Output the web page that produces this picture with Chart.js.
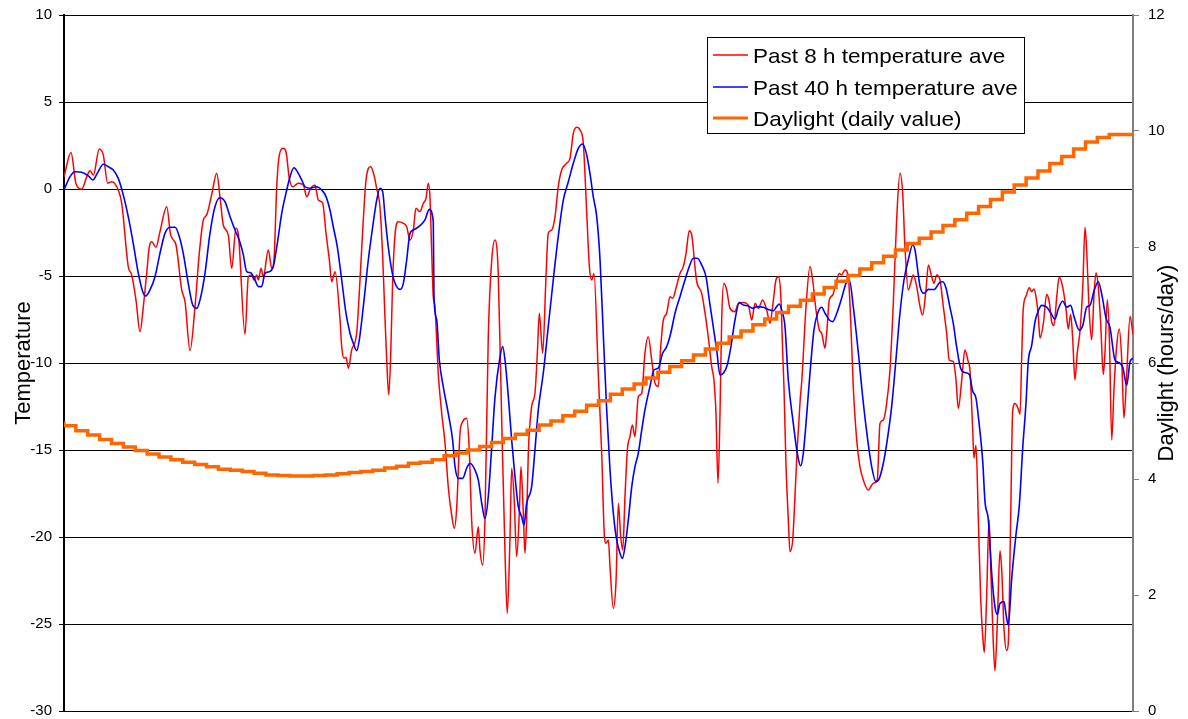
<!DOCTYPE html>
<html>
<head>
<meta charset="utf-8">
<title>Temperature and daylight</title>
<script src="https://cdn.jsdelivr.net/npm/chart.js@4.4.1/dist/chart.umd.min.js"></script>
<style>
    html, body { margin: 0; padding: 0; background: #fff; }
    #wrap { width: 1188px; height: 719px; }
</style>
</head>
<body>
<div id="wrap"><canvas id="tempChart" width="1188" height="719"></canvas></div>
<script>
// Data (x = days from start of record)
const past8hDay = [
    0.00, 0.59, 1.01, 1.49, 1.91, 2.19, 2.47, 2.97, 3.31, 3.68, 4.02, 4.57, 4.86, 5.41, 5.70, 6.06, 6.40, 6.68, 6.96, 7.18,
    7.38, 7.75, 8.08, 8.65, 8.98, 9.43, 9.91, 10.19, 10.61, 11.03, 11.39, 11.73, 12.01, 12.43, 12.86, 13.13, 13.41, 13.83, 14.12, 14.48,
    14.67, 15.24, 15.52, 15.80, 16.00, 16.22, 16.36, 16.59, 16.78, 17.20, 17.49, 17.68, 17.91, 18.13, 18.46, 18.69, 18.97, 19.25, 19.73, 20.15,
    20.43, 20.77, 21.13, 21.41, 21.78, 22.06, 22.34, 22.54, 22.82, 23.24, 23.38, 23.57, 23.74, 23.94, 24.22, 24.64, 24.92, 25.15, 25.43, 25.82,
    26.10, 26.32, 26.60, 26.83, 27.03, 27.17, 27.34, 27.51, 27.67, 27.87, 28.15, 28.57, 28.85, 29.13, 29.41, 29.63, 29.97, 30.25, 30.48, 30.67,
    30.81, 30.96, 31.09, 31.23, 31.51, 31.80, 32.08, 32.35, 32.64, 32.86, 33.06, 33.34, 33.57, 33.90, 34.12, 34.32, 34.60, 34.88, 35.02, 35.25,
    35.44, 35.72, 36.01, 36.29, 36.56, 36.85, 37.13, 37.32, 37.55, 37.69, 37.89, 38.11, 38.33, 38.47, 38.67, 38.81, 38.95, 39.09, 39.37, 39.65,
    39.85, 40.02, 40.30, 40.58, 40.77, 41.06, 41.34, 41.61, 41.90, 42.32, 42.60, 42.88, 43.16, 43.44, 43.72, 44.01, 44.23, 44.43, 44.62, 44.98,
    45.27, 45.50, 45.63, 45.83, 45.97, 46.25, 46.48, 46.67, 46.87, 47.04, 47.23, 47.43, 47.65, 47.85, 48.07, 48.35, 48.64, 48.91, 49.19, 49.48,
    49.76, 50.03, 50.24, 50.46, 50.74, 51.02, 51.25, 51.52, 51.86, 52.14, 52.37, 52.64, 52.85, 53.12, 53.27, 53.69, 53.97, 54.24, 54.53, 54.72,
    54.89, 55.06, 55.23, 55.37, 55.56, 55.79, 56.07, 56.49, 56.77, 57.19, 57.61, 57.90, 58.18, 58.45, 58.82, 59.16, 59.44, 59.66, 59.94, 60.14,
    60.34, 60.51, 60.62, 60.78, 60.98, 61.12, 61.35, 61.54, 61.74, 61.98, 62.12, 62.22, 62.47, 62.81, 63.03, 63.31, 63.59, 63.79, 64.07, 64.21,
    64.43, 64.72, 64.99, 65.27, 65.47, 65.75, 66.03, 66.23, 66.45, 66.74, 67.01, 67.29, 67.71, 68.14, 68.47, 68.70, 68.98, 69.26, 69.54, 69.82,
    70.10, 70.38, 70.61, 70.80, 71.08, 71.28, 71.50, 71.79, 72.07, 72.29, 72.57, 72.77, 73.05, 73.25, 73.47, 73.75, 74.03, 74.31, 74.53, 74.87,
    75.10, 75.29, 75.58, 75.85, 76.13, 76.28, 76.50, 76.61, 76.78, 76.98, 77.18, 77.35, 77.48, 77.68, 77.88, 78.05, 78.24, 78.38, 78.58, 78.80,
    78.95, 79.14, 79.37, 79.50, 79.70, 79.87, 80.07, 80.34, 80.49, 80.63, 80.76, 80.99, 81.27, 81.47, 81.66, 81.83, 82.03, 82.17, 82.45, 82.73,
    82.95, 83.15, 83.35, 83.57, 83.79, 84.08, 84.36, 84.55, 84.75, 84.92, 85.11, 85.31, 85.54, 85.77, 85.96, 86.10, 86.32, 86.52, 86.72, 86.89,
    87.08, 87.28, 87.50, 87.64, 87.84, 88.01, 88.21, 88.40, 88.63, 88.85, 89.05, 89.24, 89.47, 89.75, 90.00
];
const past8hTemp = [
    0.7, 2.1, 0.3, 0.0, 0.7, 1.05, 0.8, 2.3, 1.95, 0.33, 0.42, -0.06, -0.82, -4.46, -4.94, -6.38, -8.2, -6.76, -4.85, -3.32,
    -3.03, -3.35, -2.45, -1.02, -2.64, -3.22, -5.8, -6.48, -9.29, -6.76, -3.7, -1.78, -1.49, -0.34, 0.9, -0.44, -2.07, -2.64, -4.56, -2.26,
    -2.55, -8.35, -5.04, -4.94, -5.23, -4.94, -5.23, -4.56, -5.04, -3.51, -4.56, -4.08, 0.13, 1.95, 2.34, 2.14, 0.61, 0.13, 0.33, 0.23,
    -0.44, 0.04, 0.23, -0.63, -0.82, -2.55, -4.08, -5.33, -4.75, -7.53, -9.06, -9.73, -9.67, -10.3, -9.25, -8.29, -5.23, -2.36, 0.52, 1.28,
    0.8, 0.04, -1.02, -3.89, -7.53, -9.83, -11.84, -9.44, -5.23, -2.64, -1.88, -1.97, -2.17, -2.93, -2.36, -1.11, -1.3, -0.82, -0.54, 0.33,
    -0.44, -3.7, -6.19, -6.76, -10.59, -12.89, -14.61, -17.11, -18.74, -19.5, -18.35, -14.04, -13.37, -13.18, -15.0, -19.02, -20.94, -19.41, -20.75, -21.61,
    -19.02, -8.49, -4.08, -2.93, -4.85, -13.28, -20.94, -24.39, -19.98, -16.05, -17.68, -21.13, -18.64, -15.96, -18.64, -20.94, -19.02, -15.19, -12.51, -11.74,
    -9.44, -7.14, -9.44, -5.04, -2.55, -2.36, -1.59, 0.13, 1.09, 1.48, 1.76, 3.2, 3.55, 3.39, 2.63, -1.4, -4.46, -5.23, -4.85, -10.59,
    -15.19, -19.98, -20.36, -20.17, -21.71, -24.1, -22.47, -18.06, -19.98, -20.75, -17.68, -15.0, -14.23, -13.56, -14.23, -11.94, -11.74, -9.44, -8.49, -9.83,
    -11.17, -11.36, -9.06, -7.53, -7.14, -6.19, -6.28, -5.71, -4.85, -4.46, -3.7, -2.4, -2.64, -4.46, -5.33, -6.0, -7.14, -8.49, -10.21, -10.98,
    -12.89, -16.91, -12.89, -7.53, -5.42, -5.8, -6.86, -7.05, -6.57, -6.53, -6.67, -7.53, -6.57, -6.86, -6.38, -6.95, -7.72, -6.76, -5.23, -5.04,
    -6.0, -9.44, -11.5, -15.75, -19.0, -20.84, -20.17, -17.68, -14.81, -12.13, -10.98, -9.8, -6.76, -4.46, -5.23, -6.95, -8.1, -8.29, -9.15, -8.29,
    -6.38, -6.09, -5.42, -4.85, -4.94, -4.66, -5.04, -7.53, -11.36, -14.43, -15.96, -16.72, -17.3, -16.91, -16.72, -13.47, -13.28, -12.32, -10.4, -6.57,
    -1.78, 0.9, -0.25, -3.32, -5.8, -5.42, -4.94, -5.61, -6.76, -7.24, -5.8, -4.37, -5.04, -5.42, -4.94, -5.23, -6.76, -8.29, -9.83, -9.92,
    -10.98, -12.61, -11.0, -9.25, -9.93, -10.45, -13.79, -15.46, -14.73, -19.01, -23.61, -25.7, -26.64, -23.4, -19.01, -22.36, -26.11, -27.68, -24.86, -20.79,
    -21.94, -25.28, -26.53, -26.11, -19.01, -12.75, -12.33, -12.64, -12.95, -9.62, -6.9, -6.17, -5.68, -5.9, -5.75, -6.17, -7.32, -8.57, -7.74, -6.06,
    -6.48, -7.63, -7.84, -6.27, -5.06, -5.64, -6.9, -8.05, -7.21, -8.57, -10.97, -9.4, -8.15, -5.64, -2.2, -3.56, -7.11, -8.67, -6.06, -4.81,
    -5.64, -7.74, -10.66, -9.4, -6.37, -8.57, -14.42, -11.49, -8.99, -8.05, -9.82, -13.17, -10.66, -7.32, -8.36
];

const past40hDay = [
    0.00, 0.51, 0.93, 1.49, 2.05, 2.42, 2.80, 3.31, 3.73, 4.15, 4.57, 4.99, 5.41, 5.83, 6.26, 6.63, 6.88, 7.24, 7.66, 8.08,
    8.50, 8.92, 9.35, 9.71, 10.04, 10.46, 10.84, 11.17, 11.45, 11.87, 12.29, 12.71, 13.13, 13.55, 13.98, 14.40, 14.82, 15.10, 15.38, 15.72,
    16.08, 16.36, 16.64, 16.92, 17.28, 17.62, 17.96, 18.33, 18.75, 19.03, 19.36, 19.73, 20.01, 20.29, 20.71, 21.27, 21.70, 22.06, 22.39, 22.67,
    23.01, 23.38, 23.74, 24.08, 24.36, 24.64, 24.86, 25.20, 25.62, 25.99, 26.33, 26.60, 26.83, 27.03, 27.30, 27.59, 27.87, 28.29, 28.57, 28.85,
    29.13, 29.41, 29.97, 30.39, 30.75, 31.09, 31.15, 31.38, 31.60, 31.93, 32.35, 32.72, 32.92, 33.20, 33.57, 33.90, 34.18, 34.60, 34.88, 35.17,
    35.44, 35.72, 36.01, 36.29, 36.71, 36.93, 37.13, 37.41, 37.69, 37.97, 38.25, 38.53, 38.73, 38.95, 39.37, 39.65, 39.93, 40.35, 40.77, 41.19,
    41.61, 42.04, 42.46, 42.88, 43.30, 43.67, 44.01, 44.28, 44.56, 44.85, 45.13, 45.40, 45.69, 45.97, 46.25, 46.53, 46.81, 47.01, 47.23, 47.51,
    47.80, 48.07, 48.35, 48.64, 48.91, 49.33, 49.67, 50.03, 50.40, 50.74, 51.08, 51.44, 51.86, 52.28, 52.64, 52.98, 53.32, 53.69, 54.05, 54.33,
    54.66, 54.95, 55.23, 55.51, 55.84, 56.15, 56.49, 56.85, 57.19, 57.61, 57.98, 58.32, 58.87, 59.29, 59.72, 60.00, 60.22, 60.42, 60.70, 60.98,
    61.40, 61.74, 62.02, 62.24, 62.47, 62.76, 63.14, 63.50, 63.79, 64.07, 64.43, 64.72, 65.06, 65.47, 65.84, 66.12, 66.45, 66.88, 67.24, 67.63,
    68.00, 68.36, 68.64, 68.98, 69.31, 69.68, 70.04, 70.38, 70.72, 71.08, 71.45, 71.65, 71.84, 72.07, 72.40, 72.77, 73.25, 73.69, 73.98, 74.26,
    74.59, 74.87, 75.16, 75.49, 75.85, 76.22, 76.50, 76.78, 77.06, 77.35, 77.54, 77.82, 78.11, 78.38, 78.58, 78.80, 79.14, 79.31, 79.50, 79.79,
    80.15, 80.43, 80.72, 80.99, 81.18, 81.47, 81.75, 82.03, 82.31, 82.73, 83.07, 83.43, 83.71, 84.08, 84.42, 84.75, 85.03, 85.48, 85.77, 86.10,
    86.38, 86.72, 87.08, 87.37, 87.73, 88.06, 88.48, 88.85, 89.14, 89.47, 89.75, 90.00
];
const past40hTemp = [
    -0.06, 0.71, 0.99, 0.96, 0.75, 0.52, 0.9, 1.42, 1.28, 1.09, 0.61, -0.34, -1.59, -3.12, -4.85, -5.9, -6.15, -5.8, -5.04, -3.7,
    -2.55, -2.2, -2.2, -2.74, -3.7, -5.42, -6.67, -6.86, -6.38, -4.85, -2.55, -1.02, -0.5, -0.73, -1.59, -2.36, -3.07, -3.79, -4.75, -4.81,
    -5.23, -5.61, -5.61, -4.85, -4.75, -4.46, -3.12, -1.4, -0.06, 0.71, 1.22, 0.9, 0.52, 0.13, 0.04, 0.13, -0.06, -0.44, -1.21, -2.17,
    -3.32, -5.23, -7.14, -8.29, -8.87, -9.29, -8.68, -6.76, -4.08, -2.17, -0.63, 0.04, -0.15, -1.59, -3.32, -4.66, -5.42, -5.77, -5.42, -4.08,
    -2.55, -2.36, -2.1, -1.78, -1.17, -1.88, -6.19, -7.53, -9.83, -11.36, -12.89, -14.43, -15.96, -16.63, -16.63, -16.05, -15.76, -16.15, -16.72, -18.06,
    -18.93, -17.68, -14.81, -11.94, -9.64, -9.06, -9.83, -11.94, -14.43, -16.53, -18.26, -18.83, -19.31, -18.06, -17.11, -15.0, -12.7, -10.59, -7.91, -5.23,
    -2.74, -0.63, 0.42, 1.48, 2.34, 2.59, 1.95, 0.9, -0.44, -1.59, -4.08, -8.29, -12.7, -16.15, -18.64, -20.17, -20.94, -21.23, -20.56, -19.02,
    -17.11, -15.96, -15.19, -13.85, -12.7, -11.36, -10.4, -10.3, -9.44, -9.06, -8.29, -7.14, -6.19, -5.23, -4.46, -3.98, -3.98, -4.37, -5.04, -6.38,
    -7.91, -9.25, -10.69, -10.59, -10.11, -9.06, -7.53, -6.53, -6.67, -6.72, -6.86, -6.76, -6.8, -6.92, -7.0, -6.76, -6.61, -6.95, -7.91, -10.98,
    -13.47, -15.2, -15.92, -15.19, -13.47, -10.98, -8.1, -7.05, -6.8, -7.14, -7.53, -7.62, -7.14, -6.28, -5.42, -5.23, -6.76, -9.44, -11.94, -14.23,
    -15.96, -16.82, -16.63, -15.76, -14.43, -12.51, -9.83, -7.14, -5.23, -4.08, -3.22, -3.51, -4.46, -5.61, -6.0, -5.77, -5.78, -5.4, -5.33, -5.7,
    -6.8, -7.72, -9.1, -10.3, -10.55, -10.66, -11.6, -12.02, -13.58, -15.67, -17.97, -19.01, -22.15, -24.03, -24.45, -23.82, -23.71, -24.45, -25.07, -22.36,
    -19.85, -18.18, -14.84, -12.33, -9.93, -8.99, -7.63, -7.0, -6.69, -6.79, -7.11, -7.48, -6.9, -6.44, -6.79, -6.69, -7.32, -8.11, -7.84, -6.79,
    -6.69, -5.85, -5.33, -6.06, -7.42, -7.94, -9.82, -9.99, -10.24, -11.29, -9.93, -9.72
];

// Daily daylight (hours/day), one value per day
const daylightHours = [
    4.99, 4.92, 4.83, 4.76, 4.68, 4.61, 4.55, 4.49, 4.43, 4.38,
    4.33, 4.29, 4.25, 4.21, 4.17, 4.15, 4.13, 4.10, 4.07, 4.06,
    4.05, 4.05, 4.06, 4.07, 4.09, 4.11, 4.13, 4.15, 4.19, 4.22,
    4.27, 4.29, 4.33, 4.40, 4.45, 4.50, 4.56, 4.63, 4.70, 4.77,
    4.84, 4.93, 5.00, 5.09, 5.17, 5.27, 5.35, 5.46, 5.55, 5.64,
    5.74, 5.84, 5.94, 6.04, 6.14, 6.24, 6.34, 6.45, 6.55, 6.66,
    6.76, 6.87, 6.98, 7.08, 7.19, 7.30, 7.41, 7.51, 7.62, 7.73,
    7.84, 7.95, 8.06, 8.15, 8.26, 8.37, 8.47, 8.58, 8.70, 8.82,
    8.95, 9.07, 9.19, 9.31, 9.44, 9.56, 9.69, 9.81, 9.89, 9.94
];

const tempTicks = [-30, -25, -20, -15, -10, -5, 0, 5, 10];
const daylightTicks = [0, 2, 4, 6, 8, 10, 12];

const seriesNames = ['Past 8 h temperature ave', 'Past 40 h temperature ave', 'Daylight (daily value)'];

const fontFamily = '"Liberation Sans", Arial, Helvetica, sans-serif';

const toPoints = (xs, ys) => xs.map((x, i) => ({ x: x, y: ys[i] }));

// each day is a flat step, so repeat the last value at the end of the last day
const daylightPoints = daylightHours.map((h, i) => ({ x: i, y: h }));
daylightPoints.push({ x: daylightHours.length, y: daylightHours[daylightHours.length - 1] });

// Axis titles and the boxed legend are drawn by hand
const overlayPlugin = {
    id: 'overlay',
    afterDraw(chart) {
        const ctx = chart.ctx;
        const area = chart.chartArea;
        const midY = (area.top + area.bottom) / 2;

        ctx.save();
        ctx.fillStyle = '#000';
        ctx.font = '22px ' + fontFamily;
        ctx.textAlign = 'center';
        ctx.textBaseline = 'alphabetic';

        ctx.save();
        ctx.translate(29.5, midY);
        ctx.rotate(-Math.PI / 2);
        ctx.fillText('Temperature', 0, 0);
        ctx.restore();

        ctx.save();
        ctx.translate(1173, midY);
        ctx.rotate(-Math.PI / 2);
        ctx.fillText('Daylight (hours/day)', 0, 0);
        ctx.restore();

        // legend
        const box = { x: 707.5, y: 37.5, w: 317, h: 96 };
        ctx.fillStyle = '#fff';
        ctx.fillRect(box.x, box.y, box.w, box.h);
        ctx.strokeStyle = '#000';
        ctx.lineWidth = 1;
        ctx.strokeRect(box.x, box.y, box.w, box.h);

        ctx.font = '21px ' + fontFamily;
        ctx.textAlign = 'left';
        chart.data.datasets.forEach((ds, i) => {
            const rowY = Math.round(55 + i * 31.5);
            ctx.strokeStyle = ds.borderColor;
            ctx.lineWidth = i === 2 ? 3 : 1.4;
            ctx.beginPath();
            ctx.moveTo(713, rowY);
            ctx.lineTo(748, rowY);
            ctx.stroke();

            ctx.fillStyle = '#000';
            ctx.save();
            ctx.translate(753, rowY + 7.5);
            ctx.scale(1.07, 1);
            ctx.fillText(ds.label, 0, 0);
            ctx.restore();
        });
        ctx.restore();
    }
};

const tempCtx = document.getElementById('tempChart').getContext('2d');
const tempChart = new Chart(tempCtx, {
    type: 'line',
    data: {
        datasets: [{
            label: seriesNames[0],
            data: toPoints(past8hDay, past8hTemp),
            borderColor: '#FF0000',
            borderWidth: 1.5,
            pointRadius: 0,
            cubicInterpolationMode: 'monotone',
            yAxisID: 'y',
            order: 2
        }, {
            label: seriesNames[1],
            data: toPoints(past40hDay, past40hTemp),
            borderColor: '#0000FF',
            borderWidth: 1.6,
            pointRadius: 0,
            cubicInterpolationMode: 'monotone',
            yAxisID: 'y',
            order: 1
        }, {
            label: seriesNames[2],
            data: daylightPoints,
            borderColor: '#FF6600',
            borderWidth: 3.5,
            pointRadius: 0,
            stepped: 'after',
            yAxisID: 'y2',
            order: 0
        }]
    },
    options: {
        responsive: false,
        devicePixelRatio: 1,
        animation: false,
        layout: {
            padding: { top: 15, bottom: 8, left: 0, right: 0 }
        },
        plugins: {
            legend: { display: false },
            tooltip: { enabled: false }
        },
        scales: {
            x: {
                type: 'linear',
                min: 0,
                max: daylightHours.length,
                display: false
            },
            y: {
                position: 'left',
                min: -30,
                max: 10,
                afterBuildTicks: function(scale) {
                    scale.ticks = tempTicks.map(v => ({ value: v }));
                },
                afterFit: function(scale) {
                    scale.width = 64;
                    scale.paddingTop = 0;
                    scale.paddingBottom = 0;
                },
                ticks: {
                    color: '#000',
                    padding: 7,
                    font: { family: fontFamily, size: 15 }
                },
                grid: {
                    color: '#000',
                    lineWidth: 1,
                    tickLength: 5
                },
                border: { color: '#000', width: 2 }
            },
            y2: {
                position: 'right',
                min: 0,
                max: 12,
                afterBuildTicks: function(scale) {
                    scale.ticks = daylightTicks.map(v => ({ value: v }));
                },
                afterFit: function(scale) {
                    scale.width = 55;
                    scale.paddingTop = 0;
                    scale.paddingBottom = 0;
                },
                ticks: {
                    color: '#000',
                    padding: 9,
                    font: { family: fontFamily, size: 15 }
                },
                grid: {
                    drawOnChartArea: false,
                    color: '#808080',
                    tickLength: 6
                },
                border: { color: '#808080', width: 2 }
            }
        }
    },
    plugins: [overlayPlugin]
});
</script>
</body>
</html>
